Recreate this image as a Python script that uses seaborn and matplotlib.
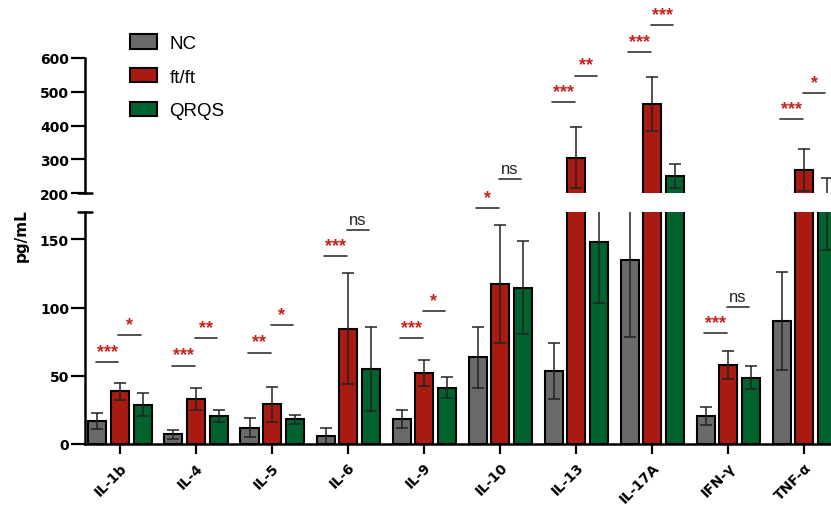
import matplotlib
matplotlib.use('Agg')
import pandas as pd
import matplotlib.pyplot as plt
import seaborn as sns
from matplotlib.patches import Patch


sns.set_style('ticks')
plt.rcParams['font.family'] = ['Liberation Sans', 'DejaVu Sans']
for key in ['text.color', 'axes.labelcolor', 'xtick.color', 'ytick.color', 'axes.edgecolor']:
    plt.rcParams[key] = 'black'

cytokines = ['IL-1b', 'IL-4', 'IL-5', 'IL-6', 'IL-9', 'IL-10', 'IL-13', 'IL-17A', 'IFN-γ', 'TNF-α']
groups = ['NC', 'ft/ft', 'QRQS']

nc_mean = [17, 7, 12, 5.7, 18.3, 63.4, 53.5, 134.7, 20.5, 90]
nc_sd = [5.8, 3.5, 6.8, 6.2, 6.4, 22.4, 20.5, 56, 6.7, 35.8]
ft_mean = [38.7, 33, 29, 84.3, 52, 117.2, 305, 464, 58, 268]
ft_sd = [6.3, 8, 13, 40.7, 9.5, 43.5, 91, 79, 10.3, 63]
qr_mean = [28.9, 20.5, 18, 54.8, 41.2, 114.5, 148, 249.5, 48.6, 193.5]
qr_sd = [8.6, 4.2, 3.5, 30.7, 7.7, 34, 45, 36, 8.2, 51]

# significance: (cytokine index, left group index, label, height, panel)
sig_marks = [
    (0, 0, '***', 60, 'lo'), (0, 1, '*', 80, 'lo'),
    (1, 0, '***', 57.5, 'lo'), (1, 1, '**', 77.5, 'lo'),
    (2, 0, '**', 67, 'lo'), (2, 1, '*', 87, 'lo'),
    (3, 0, '***', 137.4, 'lo'), (3, 1, 'ns', 157, 'lo'),
    (4, 0, '***', 77.6, 'lo'), (4, 1, '*', 97.5, 'lo'),
    (5, 0, '*', 172.8, 'lo'), (5, 1, 'ns', 194, 'lo'),
    (6, 0, '***', 469, 'hi'), (6, 1, '**', 548, 'hi'),
    (7, 0, '***', 618, 'hi'), (7, 1, '***', 697, 'hi'),
    (8, 0, '***', 81, 'lo'), (8, 1, 'ns', 100.7, 'lo'),
    (9, 0, '***', 418, 'hi'), (9, 1, '*', 496, 'hi'),
]

palette = {'NC': '#6a6a6a', 'ft/ft': '#a91b12', 'QRQS': '#00632f'}

rows = []
for g, means, sds in zip(groups, [nc_mean, ft_mean, qr_mean], [nc_sd, ft_sd, qr_sd]):
    for c, m, s in zip(cytokines, means, sds):
        rows.append({'cytokine': c, 'group': g, 'mean': m, 'sd': s})
df = pd.DataFrame(rows)

fig = plt.figure(figsize=(8.31, 5.06), dpi=100)
ax_lo = fig.add_axes([0.1023, 0.1206, 0.8977, 0.4585])
ax_hi = fig.add_axes([0.1023, 0.6166, 0.8977, 0.2668])

centers = {}
for ax in (ax_lo, ax_hi):
    ax.patch.set_visible(False)
    sns.barplot(data=df, x='cytokine', y='mean', hue='group', order=cytokines,
                hue_order=groups, palette=palette, saturation=1, width=0.89, gap=0.2,
                edgecolor='black', linewidth=1.5, errorbar=None, legend=False, ax=ax)
    for gi, (cont, g) in enumerate(zip(ax.containers, groups)):
        sub = df[df.group == g].set_index('cytokine').loc[cytokines]
        xs = [b.get_x() + b.get_width() / 2 for b in cont]
        centers[gi] = xs
        ax.errorbar(xs, sub['mean'], yerr=sub['sd'], fmt='none', ecolor='#222222',
                    elinewidth=1.1, capsize=4.3, capthick=1.1)
    ax.set_xlim(-0.46, 9.35)
    ax.set_xlabel('')
    ax.set_ylabel('')
    for s in ax.spines.values():
        s.set_linewidth(1.8)
    ax.tick_params(axis='y', length=10, width=1.6, pad=1.5, labelsize=10, color='black')
    ax.tick_params(axis='x', length=7, width=1.6, labelsize=10, color='black')

ax_lo.set_ylim(0, 170)
ax_lo.set_yticks([0, 50, 100, 150])
sns.despine(ax=ax_lo)
ax_lo.set_xticks(range(len(cytokines)))
ax_lo.set_xticklabels(cytokines, rotation=45, ha='right', rotation_mode='anchor',
                      fontweight='bold', fontfamily='DejaVu Sans')
ax_lo.tick_params(axis='x', pad=4.5)

ax_hi.set_ylim(200, 600)
ax_hi.set_yticks([200, 300, 400, 500, 600])
sns.despine(ax=ax_hi, bottom=True)
ax_hi.tick_params(axis='x', bottom=False, labelbottom=False)

for ax in (ax_lo, ax_hi):
    for lbl in ax.get_yticklabels():
        lbl.set_fontweight('bold')
        lbl.set_fontfamily('DejaVu Sans')

# axis break caps
ax_lo.plot([-0.009, 0.009], [1, 1], transform=ax_lo.transAxes, color='black',
           lw=1.8, clip_on=False)
ax_hi.plot([-0.009, 0.009], [0, 0], transform=ax_hi.transAxes, color='black',
           lw=1.8, clip_on=False)

for ci, gi, label, y, panel in sig_marks:
    ax = ax_lo if panel == 'lo' else ax_hi
    x1 = centers[gi][ci] - 0.02
    x2 = centers[gi + 1][ci] - 0.02
    ax.plot([x1, x2], [y, y], color='#333333', lw=1.2, clip_on=False)
    if label == 'ns':
        ax.annotate(label, ((x1 + x2) / 2, y), xytext=(0, 3), textcoords='offset pixels',
                    ha='center', va='bottom', fontsize=12, color='#222222',
                    annotation_clip=False)
    else:
        ax.annotate(label, ((x1 + x2) / 2, y), xytext=(0, 2), textcoords='offset pixels',
                    ha='center', va='bottom', fontsize=13, color='#c4221d',
                    fontweight='bold', annotation_clip=False)

fig.text(0.025, 1 - 236 / 506, 'pg/mL', rotation=90, fontweight='bold',
         fontfamily='DejaVu Sans', ha='center', va='center', fontsize=11)

handles = [Patch(facecolor=palette[g], edgecolor='black', linewidth=1.5, label=g)
           for g in groups]
fig.legend(handles=handles, loc='upper left', bbox_to_anchor=(0.1564, 0.93),
           frameon=False, handlelength=1.45, handleheight=0.8, labelspacing=0.85,
           fontsize=13.5, borderaxespad=0, borderpad=0, handletextpad=0.65)

fig.savefig('out.png', dpi=100)
plt.close(fig)
